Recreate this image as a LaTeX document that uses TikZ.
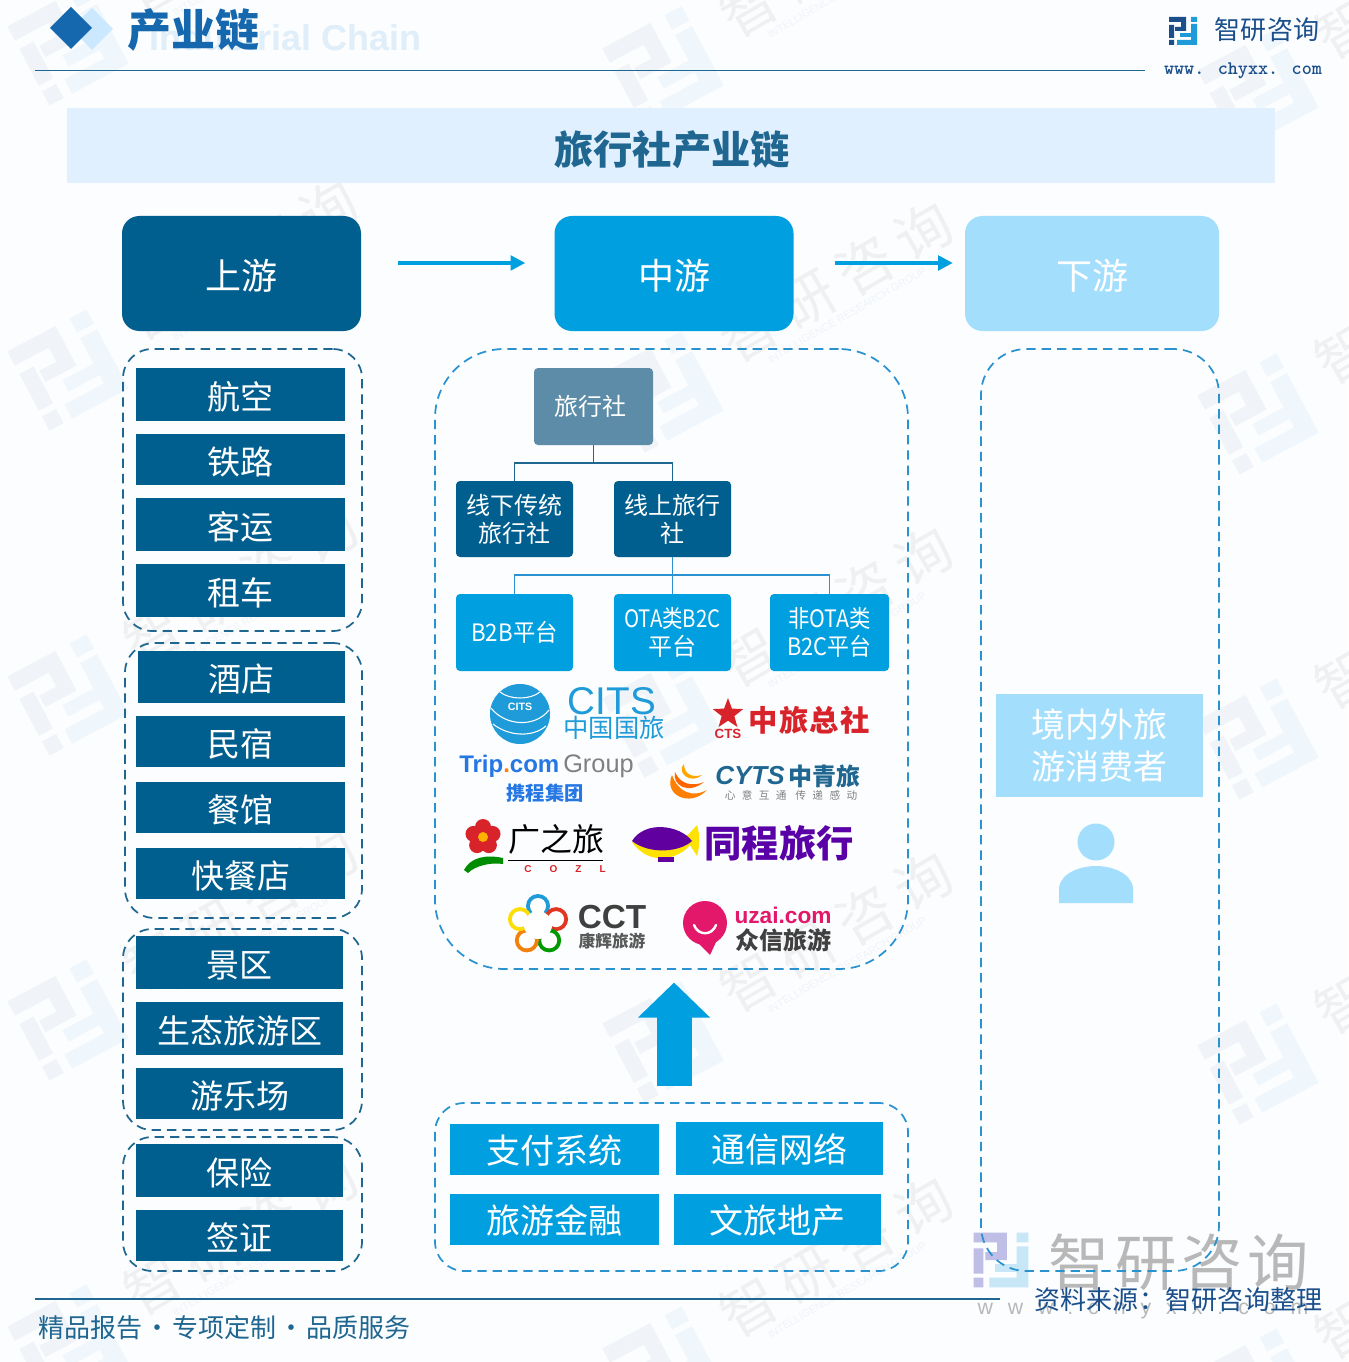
\documentclass[tikz,border=0pt]{standalone}
\usepackage{fontspec}
\usepackage{graphicx}
\usepackage{tikz}
\usetikzlibrary{arrows.meta,shapes.geometric}
\setmainfont{Noto Sans CJK SC}
\newfontfamily\latinfont{Liberation Sans}
\newcommand{\fs}[1]{\fontsize{#1}{#1}\selectfont}
\definecolor{updark}{HTML}{005F8E}
\definecolor{midblue}{HTML}{009FDF}
\definecolor{downlight}{HTML}{A3DFFD}
\definecolor{rootgrey}{HTML}{5C8CA8}
\definecolor{framedark}{HTML}{1F6690}
\definecolor{framemid}{HTML}{2A92CF}
\definecolor{navy}{HTML}{1B4F8C}
\definecolor{headblue}{HTML}{1668AE}
\definecolor{pagebg}{HTML}{FBFDFE}
\definecolor{wmdark}{HTML}{F0F3F8}
\definecolor{wmlight}{HTML}{EFF6FC}
\definecolor{wmword}{HTML}{EFF0F2}
\definecolor{subword}{HTML}{DFEEF9}
\definecolor{citsblue}{HTML}{1F9BD9}
\definecolor{ctsred}{HTML}{D8232A}
\definecolor{tripblue}{HTML}{2577E3}
\tikzset{
	size/.style 2 args={minimum width=#1*0.75pt, minimum height=#2*0.75pt, inner sep=0pt},
	headbox/.style={rounded corners=13pt, text=white, font=\fs{27}, text height=26.5pt, text depth=2pt},
	barbox/.style={fill=updark, text=white, font=\fs{24.75}, text height=24pt, text depth=2pt},
	feedbox/.style={fill=midblue, text=white, font=\fs{25.5}, text height=23.6pt, text depth=2pt},
	treebox/.style={rounded corners=3pt, text=white, align=center, font=\fs{18}},
	dashframe/.style={draw, line width=1.3pt, dash pattern=on 7pt off 4.5pt},
	treeline/.style={line width=1.4pt},
	flowarrow/.style={midblue, line width=2.4pt, -{Triangle[length=11pt,width=11pt]}},
	wmtext/.style={text=wmword, font=\fs{42}\addfontfeature{LetterSpace=20}},
	wmsmall/.style={text=wmdark, font=\latinfont\fs{8}}
}
% logo: centre x, y, rotation, scale, two colours
\newcommand{\brandlogo}[6]{
	\begin{scope}[shift={(#1,#2)}, rotate=#3, scale=#4, shift={(-14,-14)}]
		\fill[#5] (0,0) rectangle (17,5) (12,0) rectangle (17,14) (6,10) rectangle (17,14);
		\fill[#5] (0,8) rectangle (5,21) (0,23) rectangle (5,28);
		\fill[#6] (22,0) rectangle (28,5) (22,7) rectangle (28,28) (8,23) rectangle (28,28);
		\fill[#6] (11,16) rectangle (22,20);
	\end{scope}
}
\begin{document}
\begin{tikzpicture}[x=0.75pt, y=-0.75pt]
	\useasboundingbox (0,0) rectangle (1348,1362);
	\fill[pagebg] (0,0) rectangle (1348,1362);
	%% watermark
	\begin{scope}
		\clip (0,0) rectangle (1348,1362);
		\foreach \i in {0,1,2}{
			\foreach \j in {0,...,4}{
				\pgfmathsetmacro{\wx}{68+595*\i}
				\pgfmathsetmacro{\wy}{45+325*\j+22*\i}
				\brandlogo{\wx}{\wy}{28}{3.2}{wmdark}{wmlight}
				\node[wmtext, rotate=30] (wmt\i\j) at (\wx+173,\wy-110) {智研咨询};
				\node[wmsmall, rotate=30] (wms\i\j) at (\wx+184,\wy-77) {INTELLIGENCE RESEARCH GROUP};
			}
		}
	\end{scope}
	%% header
	\node[anchor=west, inner sep=0pt, text=subword, font=\latinfont\bfseries\fs{27}] (subtitle) at (149,38) {Industrial Chain};
	\fill[blue!45!cyan!20!white] (71,28) -- (92,8) -- (113,29) -- (92,50) -- cycle;
	\fill[headblue] (50,28) -- (71,7) -- (92,28) -- (71,49) -- cycle;
	\node[anchor=west, inner sep=0pt, text=headblue, font=\bfseries\fs{33}] (pagetitle) at (127,30) {产业链};
	\draw[framedark, line width=1.1pt] (35,70.5) -- (1145,70.5);
	\brandlogo{1183}{31}{0}{1}{navy}{citsblue}
	\node[text=navy, font=\fs{19.5}\addfontfeature{LetterSpace=2}] (brand) at (1267,30) {智研咨询};
	\node[text=navy, font=\ttfamily\bfseries\fs{14.4}] (site) at (1243,71) {www. chyxx. com};
	\fill[blue!50!cyan!12!white] (67,108) rectangle (1275,183);
	\node[text=framedark, font=\bfseries\fs{29.5}] (banner) at (672,150) {旅行社产业链};
	%%
	\node[headbox, size={239}{115}, fill=updark] (up) at (241.5,273.5) {上游};
	\node[headbox, size={239}{115}, fill=midblue] (mid) at (674,273.5) {中游};
	\node[headbox, size={254}{115}, fill=downlight] (down) at (1092,273.5) {下游};
	\draw[flowarrow, shorten <=27.75pt, shorten >=21.75pt] ([yshift=7.9pt]up.east) -- ([yshift=7.9pt]mid.west);
	\draw[flowarrow, shorten <=30.75pt, shorten >=9pt] ([yshift=7.9pt]mid.east) -- ([yshift=7.9pt]down.west);
	%% upstream
	\node[dashframe, framedark, size={239}{282}, rounded corners=22pt] (grpa) at (242.5,490) {};
	\node[dashframe, framedark, size={237}{275}, rounded corners=22pt] (grpb) at (243.5,780.5) {};
	\node[dashframe, framedark, size={239}{201}, rounded corners=22pt] (grpc) at (242.5,1029.5) {};
	\node[dashframe, framedark, size={239}{134}, rounded corners=22pt] (grpd) at (242.5,1204) {};
	\foreach \name/\cx/\cy/\bw/\bh/\txt in {
		air/240.5/394.5/209/53/航空, rail/240.5/459.5/209/51/铁路, coach/240.5/524.5/209/53/客运, rent/240.5/590.5/209/53/租车,
		hotel/241.5/677/207/52/酒店, inn/240.5/741.5/209/51/民宿, food/240.5/807.5/209/51/餐馆, fast/240.5/873.5/209/51/快餐店,
		scenic/239.5/962.5/207/53/景区, eco/239.5/1028.5/207/53/生态旅游区, park/239.5/1093.5/207/51/游乐场,
		insure/239.5/1170.5/207/53/保险, visa/239.5/1235.5/207/51/签证}{
		\node[barbox, size={\bw}{\bh}] (\name) at (\cx,\cy) {\txt};
	}
	%% midstream
	\node[dashframe, framemid, size={473}{620}, rounded corners=52pt] (midframe) at (671.5,659) {};
	\node[treebox, size={119}{77}, fill=rootgrey] (agency) at (593.5,406.5) {\hspace*{-4pt}旅行社};
	\node[treebox, size={117}{76}, fill=updark] (offline) at (514.5,519) {线下传统\\[3pt]旅行社};
	\node[treebox, size={117}{76}, fill=updark] (online) at (672.5,519) {线上旅行\\[3pt]社};
	\node[treebox, size={117}{77}, fill=midblue] (btob) at (514.5,632.5) {\scalebox{.93}[1]{B2B平台}};
	\node[treebox, size={117}{77}, fill=midblue] (ota) at (672.5,632.5) {\scalebox{.85}[1]{OTA类B2C}\\[3pt]平台};
	\node[treebox, size={119}{77}, fill=midblue] (nonota) at (829.5,632.5) {\scalebox{.89}[1]{非OTA类}\\[3pt]\scalebox{.91}[1]{B2C平台}};
	\draw[treeline, framedark] (agency.south) -- ++(0,18) -| (offline.north);
	\draw[treeline, framedark] (agency.south) -- ++(0,18) -| (online.north);
	\draw[treeline, framemid] (online.south) -- (ota.north);
	\draw[treeline, framemid] (online.south) -- ++(0,18) -| (btob.north);
	\draw[treeline, framemid] (online.south) -- ++(0,18) -| (nonota.north);
	%% logos, first row
	\fill[citsblue] (520,714) circle (30);
	\draw[white, line width=0.8pt] (491,708) .. controls (505,726) and (535,728) .. (549,710) (493,724) .. controls (508,736) and (532,738) .. (546,726) (500,692) .. controls (510,700) and (530,700) .. (540,692);
	\node[text=white, font=\latinfont\bfseries\fs{8}] (citssmall) at (520,707) {CITS};
	\node[text=citsblue, font=\latinfont\fs{29}] (citsname) at (612,701) {CITS};
	\node[text=citsblue, font=\fs{19}] (citscn) at (614,728) {中国国旅};
	\node[star, star points=5, star point ratio=2.4, fill=ctsred, minimum size=24pt, inner sep=0pt] (ctsstar) at (728,714) {};
	\node[text=ctsred, font=\latinfont\bfseries\fs{10}] (ctsname) at (728,734) {CTS};
	\node[text=ctsred, font=\bfseries\fs{22}\addfontfeature{LetterSpace=4}] (ctscn) at (809,720) {中旅总社};
	%% second row
	\node[anchor=west, inner sep=0pt, font=\latinfont\bfseries\fs{18}] (trip) at (459,766) {\textcolor{tripblue}{Trip}\textcolor{orange}{.}\textcolor{tripblue}{com}};
	\node[anchor=west, inner sep=0pt, text=gray, font=\latinfont\fs{19}] (tripgroup) at (563,766) {Group};
	\node[text=tripblue, font=\bfseries\fs{14.5}] (tripcn) at (545,793) {携程集团};
	\fill[orange] (672,775) .. controls (663,795) and (690,808) .. (707,790) .. controls (692,798) and (678,792) .. (672,775);
	\fill[orange!80!red] (675,772) .. controls (672,785) and (688,795) .. (704,782) .. controls (692,787) and (680,784) .. (675,772);
	\fill[orange!70!yellow] (684,764) .. controls (676,772) and (690,785) .. (702,775) .. controls (692,778) and (684,774) .. (684,764);
	\node[anchor=west, inner sep=0pt, text=framedark, font=\latinfont\bfseries\itshape\fs{19.5}] (cyts) at (715,776) {CYTS};
	\node[text=framedark, font=\bfseries\fs{18}] (cytscn) at (824,776) {中青旅};
	\node[text=gray, font=\fs{8}\addfontfeature{LetterSpace=60}] (cytsline) at (791,795) {心意互通 传递感动};
	%% third row
	\foreach \ang in {18,90,162,234,306}{
		\fill[ctsred] (483+10*cos \ang,837-10*sin \ang) circle (8);
	}
	\fill[orange!60!yellow] (483,837) circle (5);
	\fill[green!55!black] (464,870) .. controls (470,858) and (485,854) .. (503,858) -- (503,864) .. controls (490,862) and (475,866) .. (468,873) -- cycle;
	\node[font=\fs{24}] (cozlcn) at (556,839) {广之旅};
	\draw[line width=0.7pt] (508,860) -- (603,860);
	\node[text=ctsred, font=\latinfont\bfseries\fs{7.5}\addfontfeature{LetterSpace=180}] (cozl) at (565,869) {COZL};
	\fill[yellow!85!orange] (632,842) .. controls (650,868) and (680,858) .. (690,845) -- (697,856) .. controls (700,845) and (700,835) .. (697,825) -- (688,835) -- cycle;
	\fill[violet!75!blue] (632,841) .. controls (645,820) and (680,825) .. (692,841) .. controls (680,852) and (650,855) .. (632,841);
	\fill[violet!75!blue] (658,857) rectangle (674,862);
	\node[text=violet!70!blue, font=\bfseries\fs{28}] (tongcheng) at (779,843) {同程旅行};
	%% fourth row
	\foreach \ang/\lobe in {90/citsblue, 18/ctsred!80!orange, -54/green!60!black, -126/orange!80!brown, 162/yellow!80!orange}{
		\fill[\lobe] (538+19*cos \ang,925-19*sin \ang) circle (12);
	}
	\foreach \ang in {90,18,-54,-126,162}{
		\fill[white] (538+19*cos \ang,925-19*sin \ang) circle (8);
	}
	\fill[white] (538,925) circle (14);
	\node[text=black!75, font=\latinfont\bfseries\fs{25}] (cct) at (612,917) {CCT};
	\node[text=black!65, font=\bfseries\fs{12.5}] (cctcn) at (612,941) {康辉旅游};
	\fill[ctsred!70!magenta] (705,923) circle (22);
	\fill[ctsred!70!magenta] (695,940) -- (710,955) -- (717,940) -- cycle;
	\draw[white, line width=1.8pt, line cap=round] (694,925) .. controls (698,936) and (712,936) .. (716,925);
	\node[text=ctsred!70!magenta, font=\latinfont\bfseries\fs{17}] (uzai) at (783,915) {uzai.com};
	\node[text=black!75, font=\bfseries\fs{18}] (uzaicn) at (783,940) {众信旅游};
	%% support
	\node[dashframe, framemid, size={473}{168}, rounded corners=22pt] (infra) at (671.5,1187) {};
	\node[feedbox, size={209}{51}] (pay) at (554.5,1149.5) {支付系统};
	\node[feedbox, size={207}{53}] (net) at (779.5,1148.5) {通信网络};
	\node[feedbox, size={209}{51}] (fin) at (554.5,1219.5) {旅游金融};
	\node[feedbox, size={207}{51}] (estate) at (777.5,1219.5) {文旅地产};
	\draw[midblue, line width=26.25pt, -{Triangle[length=26.25pt,width=52.5pt]}, shorten <=12pt, shorten >=9.5pt] ([xshift=1.9pt]infra.north) -- ([xshift=1.9pt]midframe.south);
	%% footer mark under the frame
	\brandlogo{1001}{1260}{0}{1.95}{blue!45!gray!35!white}{citsblue!25!white}
	\node[text=black!28, font=\fs{46}\addfontfeature{LetterSpace=8}] (mark) at (1179,1262) {智研咨询};
	\node[text=black!28, font=\latinfont\fs{16}\addfontfeature{LetterSpace=70}] (marksite) at (1143,1309) {www.chyxx.com};
	%% downstream
	\node[dashframe, framemid, size={238}{922}, rounded corners=34pt] (downframe) at (1100,810) {};
	\node[fill=downlight, text=white, size={207}{103}, align=center, font=\fs{25.5}] (consumer) at (1099.5,745.5) {境内外旅\\[6pt]游消费者};
	\fill[downlight] (1096,842) circle (18.5);
	\fill[downlight] (1059,903) -- (1059,888) .. controls (1061,872) and (1082,866) .. (1096,866) .. controls (1110,866) and (1131,872) .. (1133,888) -- (1133,903) -- cycle;
	%% footer
	\draw[framedark, line width=1.1pt] (35,1299) -- (1000,1299);
	\node[anchor=west, inner sep=0pt, text=framedark, font=\fs{19.5}] (motto) at (38,1328) {精品报告\hspace{1.5pt}·\hspace{1.5pt}专项定制\hspace{1.5pt}·\hspace{1.5pt}品质服务};
	\node[anchor=east, inner sep=0pt, text=navy, font=\fs{19.5}\addfontfeature{LetterSpace=1}] (source) at (1323,1300) {资料来源：智研咨询整理};
\end{tikzpicture}
\end{document}
